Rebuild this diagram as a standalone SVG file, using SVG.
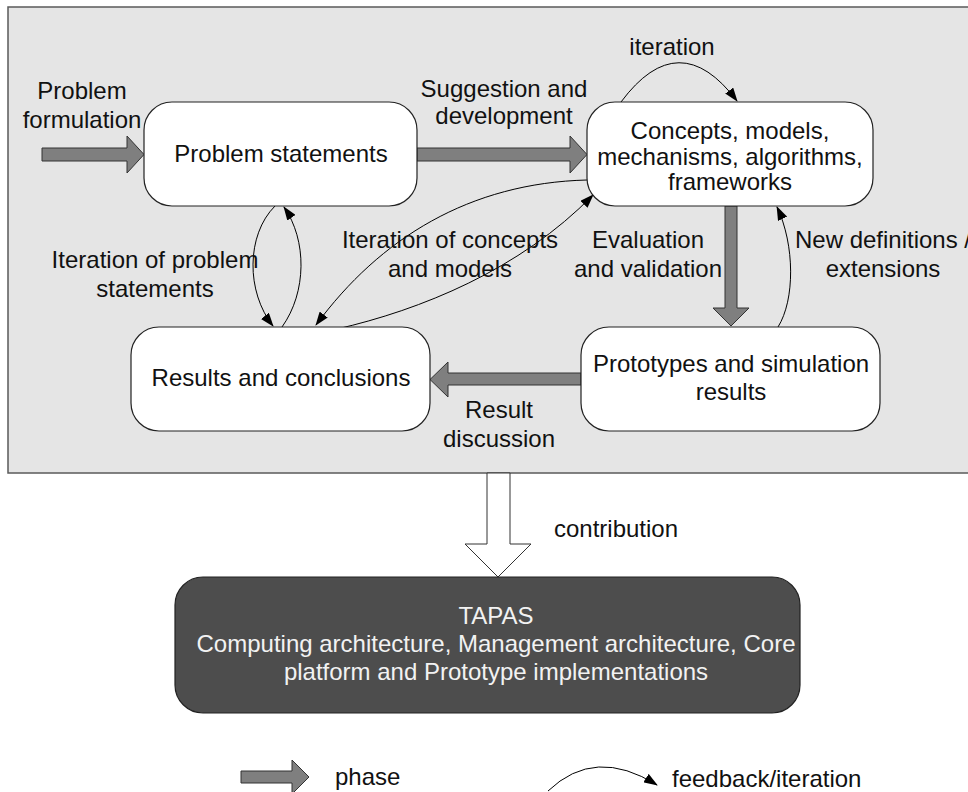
<svg xmlns="http://www.w3.org/2000/svg" width="968" height="792" viewBox="0 0 968 792">
  <style>
    .lbl { font-family: "Liberation Sans", Arial, sans-serif; font-size: 24px; fill: #111; text-anchor: middle; }
    .lbl-l { font-family: "Liberation Sans", Arial, sans-serif; font-size: 24px; fill: #111; }
    .lbl-w { font-family: "Liberation Sans", Arial, sans-serif; font-size: 24px; fill: #f2f2f2; text-anchor: middle; }
    .node { fill: #ffffff; stroke: #222; stroke-width: 1.2; }
    .phase { fill: #7f7f7f; stroke: #333; stroke-width: 1; }
    .fb { fill: none; stroke: #000; stroke-width: 1; marker-end: url(#ah); }
  </style>
  <defs>
    <marker id="ah" viewBox="0 0 14 10" refX="13" refY="5" markerWidth="14" markerHeight="10" markerUnits="userSpaceOnUse" orient="auto">
      <path d="M0,0 L14,5 L0,10 z" fill="#000"/>
    </marker>
  </defs>

  <!-- research process panel -->
  <rect id="panel" x="8" y="7" width="990" height="466" fill="#e5e5e5" stroke="#5a5a5a" stroke-width="1.5"/>

  <!-- phase arrows and feedback curves -->
  <g id="connectors">
    <polygon class="phase" points="42,148 127,148 127,136 144,154.5 127,173 127,161 42,161"/>
    <polygon class="phase" points="417,148 570,148 570,136 587,154.5 570,173 570,161 417,161"/>
    <polygon class="phase" points="725,206 737,206 737,308 749,308 731,326 713,308 725,308"/>
    <polygon class="phase" points="581,373 448,373 448,362 430,379.5 448,397 448,385 581,385"/>

    <path class="fb" d="M621,102 Q679,24 737,101"/>
    <path class="fb" d="M275,206 C246,235 246,292 273,326"/>
    <path class="fb" d="M282,327 C307,292 307,240 284,207"/>
    <path class="fb" d="M587,180 C470,183 380,238 316,325"/>
    <path class="fb" d="M337,329 C420,310 520,270 593,195"/>
    <path class="fb" d="M778,327 C795,300 795,245 777,207"/>

    <!-- contribution to TAPAS -->
    <polygon points="487,473 510,473 510,544 531,544 498,577 465,544 487,544" fill="#ffffff" stroke="#333" stroke-width="1"/>
  </g>

  <g id="n-problem">
    <rect class="node" x="144" y="102" width="273" height="104" rx="28" ry="28"/>
    <text class="lbl" x="281" y="162">Problem statements</text>
  </g>
  <g id="n-concepts">
    <rect class="node" x="587" y="102" width="286" height="104" rx="28" ry="28"/>
    <text class="lbl" x="730" y="139">Concepts, models,</text>
    <text class="lbl" x="730" y="164.5">mechanisms, algorithms,</text>
    <text class="lbl" x="730" y="190">frameworks</text>
  </g>
  <g id="n-results">
    <rect class="node" x="131" y="327" width="299" height="104" rx="28" ry="28"/>
    <text class="lbl" x="281" y="386">Results and conclusions</text>
  </g>
  <g id="n-prototypes">
    <rect class="node" x="581" y="327" width="299" height="104" rx="28" ry="28"/>
    <text class="lbl" x="731" y="372">Prototypes and simulation</text>
    <text class="lbl" x="731" y="400">results</text>
  </g>
  <g id="n-tapas">
    <rect x="175" y="577" width="625" height="136" rx="28" ry="28" fill="#4d4d4d" stroke="#222" stroke-width="1.2"/>
    <text class="lbl-w" x="496" y="624">TAPAS</text>
    <text class="lbl-w" x="496" y="652">Computing architecture, Management architecture, Core</text>
    <text class="lbl-w" x="496" y="680">platform and Prototype implementations</text>
  </g>

  <!-- connector labels -->
  <g id="labels">
    <text class="lbl" x="82" y="99">Problem</text>
    <text class="lbl" x="82" y="128">formulation</text>
    <text class="lbl" x="504" y="97">Suggestion and</text>
    <text class="lbl" x="504" y="124">development</text>
    <text class="lbl" x="672" y="55">iteration</text>
    <text class="lbl" x="155" y="268">Iteration of problem</text>
    <text class="lbl" x="155" y="297">statements</text>
    <text class="lbl" x="450" y="248">Iteration of concepts</text>
    <text class="lbl" x="450" y="277">and models</text>
    <text class="lbl" x="648" y="248">Evaluation</text>
    <text class="lbl" x="648" y="277">and validation</text>
    <text class="lbl" x="883" y="248">New definitions /</text>
    <text class="lbl" x="883" y="277">extensions</text>
    <text class="lbl" x="499" y="418">Result</text>
    <text class="lbl" x="499" y="447">discussion</text>
    <text class="lbl" x="616" y="537">contribution</text>
  </g>

  <!-- legend -->
  <g id="legend">
    <polygon class="phase" points="241,771 292,771 292,760 309,777 292,794 292,783 241,783"/>
    <text class="lbl-l" x="335" y="785">phase</text>
    <path class="fb" d="M548,791 Q595,746 657,785"/>
    <text class="lbl-l" x="672" y="787">feedback/iteration</text>
  </g>
</svg>
